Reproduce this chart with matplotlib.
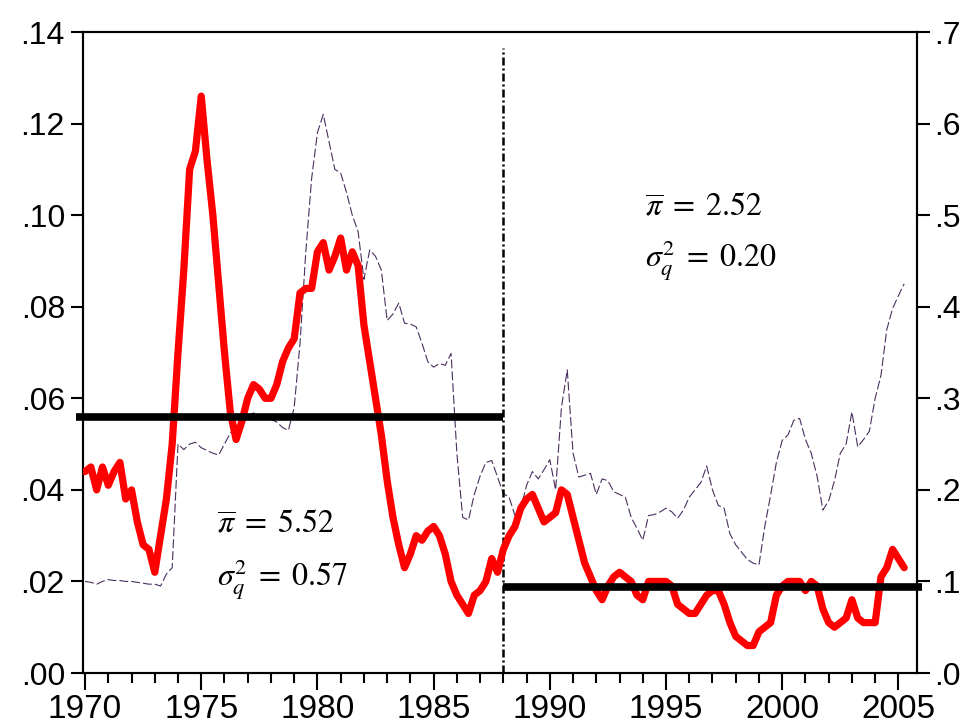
import numpy as np
import matplotlib
matplotlib.use("Agg")
import matplotlib.pyplot as plt
from matplotlib.ticker import FixedLocator, FuncFormatter

plt.rcParams['font.family'] = ['Liberation Sans', 'DejaVu Sans']
plt.rcParams['mathtext.fontset'] = 'stix'

# quarterly observations, 1970Q1 .. 2005Q2
start_year = 1970.0
# thick red series (left axis)
inflation = [
    0.044, 0.045, 0.040, 0.045, 0.041, 0.044, 0.046, 0.038,  # 1970-71
    0.040, 0.033, 0.028, 0.027, 0.022, 0.030, 0.038, 0.050,  # 1972-73
    0.070, 0.088, 0.110, 0.114, 0.126, 0.112, 0.100, 0.085,  # 1974-75
    0.070, 0.057, 0.051, 0.055, 0.060, 0.063, 0.062, 0.060,  # 1976-77
    0.060, 0.063, 0.068, 0.071, 0.073, 0.083, 0.084, 0.084,  # 1978-79
    0.092, 0.094, 0.088, 0.091, 0.095, 0.088, 0.092, 0.089,  # 1980-81
    0.076, 0.068, 0.060, 0.052, 0.042, 0.034, 0.028, 0.023,  # 1982-83
    0.026, 0.030, 0.029, 0.031, 0.032, 0.030, 0.026, 0.020,  # 1984-85
    0.017, 0.015, 0.013, 0.017, 0.018, 0.020, 0.025, 0.022,  # 1986-87
    0.027, 0.030, 0.032, 0.036, 0.038, 0.039, 0.036, 0.033,  # 1988-89
    0.034, 0.035, 0.040, 0.039, 0.034, 0.029, 0.024, 0.021,  # 1990-91
    0.018, 0.016, 0.019, 0.021, 0.022, 0.021, 0.020, 0.017,  # 1992-93
    0.016, 0.020, 0.020, 0.020, 0.020, 0.019, 0.015, 0.014,  # 1994-95
    0.013, 0.013, 0.015, 0.017, 0.018, 0.018, 0.015, 0.011,  # 1996-97
    0.008, 0.007, 0.006, 0.006, 0.009, 0.010, 0.011, 0.017,  # 1998-99
    0.019, 0.020, 0.020, 0.020, 0.018, 0.020, 0.019, 0.014,  # 2000-01
    0.011, 0.010, 0.011, 0.012, 0.016, 0.012, 0.011, 0.011,  # 2002-03
    0.011, 0.021, 0.023, 0.027, 0.025, 0.023,                # 2004-05
]
# thin dashed series (right axis)
volatility = [
    0.100, 0.099, 0.097, 0.100, 0.102, 0.101, 0.101, 0.100,
    0.100, 0.099, 0.098, 0.097, 0.097, 0.095, 0.108, 0.115,
    0.250, 0.244, 0.250, 0.252, 0.246, 0.243, 0.240, 0.238,
    0.250, 0.262, 0.270, 0.276, 0.281, 0.284, 0.281, 0.279,
    0.277, 0.274, 0.268, 0.265, 0.290, 0.360, 0.460, 0.540,
    0.590, 0.610, 0.580, 0.550, 0.546, 0.525, 0.500, 0.482,
    0.430, 0.462, 0.455, 0.440, 0.385, 0.392, 0.404, 0.382,
    0.381, 0.378, 0.360, 0.340, 0.334, 0.338, 0.336, 0.349,
    0.240, 0.170, 0.167, 0.195, 0.215, 0.230, 0.232, 0.214,
    0.196, 0.192, 0.172, 0.180, 0.205, 0.220, 0.212, 0.222,
    0.233, 0.200, 0.290, 0.331, 0.240, 0.214, 0.216, 0.218,
    0.195, 0.212, 0.210, 0.198, 0.195, 0.192, 0.170, 0.158,
    0.145, 0.172, 0.173, 0.176, 0.180, 0.176, 0.169, 0.178,
    0.192, 0.200, 0.208, 0.226, 0.200, 0.183, 0.180, 0.152,
    0.140, 0.132, 0.124, 0.120, 0.118, 0.160, 0.194, 0.230,
    0.254, 0.260, 0.276, 0.278, 0.255, 0.240, 0.215, 0.178,
    0.188, 0.210, 0.240, 0.250, 0.285, 0.247, 0.255, 0.264,
    0.300, 0.325, 0.375, 0.398, 0.412, 0.425,
]

# regime means and break date
break_year = 1988.0
regime_start = [1969.6, 1988.0]
regime_end = [1988.0, 2006.0]
regime_mean = [0.056, 0.0188]
break_top = 0.1365

left_ticks = [0.00, 0.02, 0.04, 0.06, 0.08, 0.10, 0.12, 0.14]
right_ticks = [0.0, 0.1, 0.2, 0.3, 0.4, 0.5, 0.6, 0.7]
year_labels = [1970, 1975, 1980, 1985, 1990, 1995, 2000, 2005]

t1 = start_year + np.arange(len(inflation)) / 4.0
t2 = start_year + np.arange(len(volatility)) / 4.0

fig = plt.figure(figsize=(9.68, 7.26), dpi=100)
ax = fig.add_axes([0.0857, 0.0730, 0.9473 - 0.0857, 0.9559 - 0.0730])
ax2 = ax.twinx()

ax2.plot(t2, volatility, color='#4a2f5e', lw=0.8, linestyle=(0, (8, 2.7)))
ax.plot(t1, inflation, color='#ff0000', lw=5.2, solid_joinstyle='round',
        solid_capstyle='round', zorder=3)
for s, e, m in zip(regime_start, regime_end, regime_mean):
    ax.plot([s, e], [m, m], color='black', lw=5.5, solid_capstyle='butt',
            clip_on=False, zorder=4)
ax.plot([break_year, break_year], [0, break_top], color='black', lw=1.8,
        linestyle=(0, (3.2, 1.2, 0.8, 1.2)), zorder=2)

ax.set_zorder(ax2.get_zorder() + 1)
ax.patch.set_visible(False)

ax.set_xlim(1969.91, 2005.8)
ax.set_ylim(0, 0.14)
ax2.set_ylim(0, 0.7)

ax.xaxis.set_major_locator(FixedLocator(year_labels))
ax.xaxis.set_minor_locator(FixedLocator(list(range(1970, 2006))))
ax.set_yticks(left_ticks)
ax2.set_yticks(right_ticks)
ax.yaxis.set_major_formatter(FuncFormatter(lambda v, p: ('%.2f' % v)[1:]))
ax2.yaxis.set_major_formatter(FuncFormatter(lambda v, p: ('%.1f' % v)[1:]))

ax.tick_params(axis='x', which='major', direction='out', length=12, width=1.5,
               labelsize=24, pad=3)
ax.tick_params(axis='x', which='minor', direction='out', length=7, width=1.5)
ax.tick_params(axis='y', direction='out', length=9, width=1.5, labelsize=23, pad=4)
ax2.tick_params(axis='y', direction='out', length=9, width=1.5, labelsize=23, pad=3)
for a in (ax, ax2):
    for sp in a.spines.values():
        sp.set_linewidth(1.5)

ax.text(1975.68, 0.0306, r'$\overline{\pi}\;=\;5.52$', fontsize=23, va='baseline')
ax.text(1975.68, 0.0188, r'$\sigma_q^2\;=\;0.57$', fontsize=23, va='baseline')
ax.text(1994.1, 0.1000, r'$\overline{\pi}\;=\;2.52$', fontsize=23, va='baseline')
ax.text(1994.1, 0.0885, r'$\sigma_q^2\;=\;0.20$', fontsize=23, va='baseline')

plt.savefig('out.png', dpi=100)
